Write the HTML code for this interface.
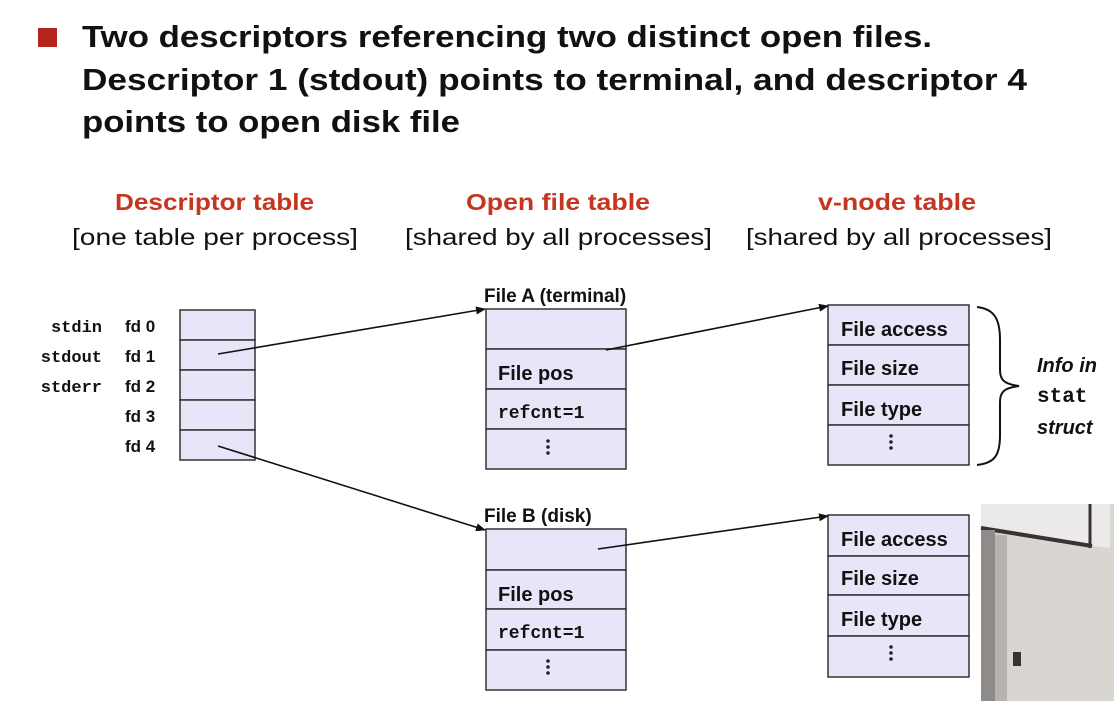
<!DOCTYPE html>
<html><head><meta charset="utf-8"><style>
html,body{margin:0;padding:0;background:#fff;width:1114px;height:701px;overflow:hidden}
svg{display:block}
.t{font-family:"Liberation Sans",sans-serif;font-weight:bold;fill:#111}
.m{font-family:"Liberation Mono",monospace;fill:#111}
.r{font-family:"Liberation Sans",sans-serif;font-weight:bold;fill:#c5351f}
.s{font-family:"Liberation Sans",sans-serif;fill:#111}
.c{fill:#e6e6f8;stroke:#333;stroke-width:1.5}
</style></head><body>
<svg width="1114" height="701" viewBox="0 0 1114 701">
<defs><marker id="a" markerWidth="10" markerHeight="8" refX="9" refY="4" orient="auto" markerUnits="userSpaceOnUse"><path d="M0,0 L10,4 L0,8 z" fill="#111"/></marker></defs>
<rect x="38" y="28" width="19" height="19" fill="#b3261e"/>
<text class="t" x="82" y="47" font-size="31" textLength="850" lengthAdjust="spacingAndGlyphs">Two descriptors referencing two distinct open files.</text>
<text class="t" x="82" y="90" font-size="31" textLength="945" lengthAdjust="spacingAndGlyphs">Descriptor 1 (stdout) points to terminal, and descriptor 4</text>
<text class="t" x="82" y="132" font-size="31" textLength="378" lengthAdjust="spacingAndGlyphs">points to open disk file</text>

<text class="r" x="115" y="210" font-size="23" textLength="199" lengthAdjust="spacingAndGlyphs">Descriptor table</text>
<text class="s" x="72" y="245" font-size="23" textLength="286" lengthAdjust="spacingAndGlyphs">[one table per process]</text>
<text class="r" x="466" y="210" font-size="23" textLength="184" lengthAdjust="spacingAndGlyphs">Open file table</text>
<text class="s" x="405" y="245" font-size="23" textLength="307" lengthAdjust="spacingAndGlyphs">[shared by all processes]</text>
<text class="r" x="818" y="210" font-size="23" textLength="158" lengthAdjust="spacingAndGlyphs">v-node table</text>
<text class="s" x="746" y="245" font-size="23" textLength="306" lengthAdjust="spacingAndGlyphs">[shared by all processes]</text>

<g class="c"><rect x="180" y="310" width="75" height="30"/><rect x="180" y="340" width="75" height="30"/><rect x="180" y="370" width="75" height="30"/><rect x="180" y="400" width="75" height="30"/><rect x="180" y="430" width="75" height="30"/></g>
<g font-size="17">
<text class="m" x="102" y="332" text-anchor="end" font-weight="bold">stdin</text>
<text class="m" x="102" y="362" text-anchor="end" font-weight="bold">stdout</text>
<text class="m" x="102" y="392" text-anchor="end" font-weight="bold">stderr</text>
<text class="t" x="125" y="332">fd 0</text><text class="t" x="125" y="362">fd 1</text><text class="t" x="125" y="392">fd 2</text><text class="t" x="125" y="422">fd 3</text><text class="t" x="125" y="452">fd 4</text>
</g>

<g class="c"><rect x="486" y="309" width="140" height="40"/><rect x="486" y="349" width="140" height="40"/><rect x="486" y="389" width="140" height="40"/><rect x="486" y="429" width="140" height="40"/>
<rect x="486" y="529" width="140" height="41"/><rect x="486" y="570" width="140" height="39"/><rect x="486" y="609" width="140" height="41"/><rect x="486" y="650" width="140" height="40"/></g>
<text class="t" x="484" y="302" font-size="19">File A (terminal)</text>
<text class="t" x="484" y="522" font-size="19">File B (disk)</text>
<text class="t" x="498" y="380" font-size="20">File pos</text>
<text class="m" x="498" y="418" font-size="18" font-weight="bold">refcnt=1</text>
<text class="t" x="498" y="601" font-size="20">File pos</text>
<text class="m" x="498" y="638" font-size="18" font-weight="bold">refcnt=1</text>
<g fill="#222"><circle cx="548" cy="441" r="1.8"/><circle cx="548" cy="447" r="1.8"/><circle cx="548" cy="453" r="1.8"/>
<circle cx="548" cy="661" r="1.8"/><circle cx="548" cy="667" r="1.8"/><circle cx="548" cy="673" r="1.8"/></g>

<g class="c"><rect x="828" y="305" width="141" height="40"/><rect x="828" y="345" width="141" height="40"/><rect x="828" y="385" width="141" height="40"/><rect x="828" y="425" width="141" height="40"/>
<rect x="828" y="515" width="141" height="41"/><rect x="828" y="556" width="141" height="39"/><rect x="828" y="595" width="141" height="41"/><rect x="828" y="636" width="141" height="41"/></g>
<g font-size="20">
<text class="t" x="841" y="336">File access</text><text class="t" x="841" y="375">File size</text><text class="t" x="841" y="416">File type</text>
<text class="t" x="841" y="546">File access</text><text class="t" x="841" y="585">File size</text><text class="t" x="841" y="626">File type</text>
</g>
<g fill="#222"><circle cx="891" cy="436" r="1.8"/><circle cx="891" cy="442" r="1.8"/><circle cx="891" cy="448" r="1.8"/>
<circle cx="891" cy="647" r="1.8"/><circle cx="891" cy="653" r="1.8"/><circle cx="891" cy="659" r="1.8"/></g>

<path d="M977,307 C995,309 1000,320 1000,340 L1000,370 C1000,380 1004,384 1019,386 C1004,388 1000,392 1000,402 L1000,435 C1000,455 995,463 977,465" fill="none" stroke="#111" stroke-width="2"/>
<text class="s" x="1037" y="372" font-size="20" font-style="italic" font-weight="bold">Info in</text>
<text class="m" x="1037" y="402" font-size="21" font-weight="bold">stat</text>
<text class="s" x="1037" y="434" font-size="20" font-style="italic" font-weight="bold">struct</text>

<g stroke="#111" stroke-width="1.6" fill="none" marker-end="url(#a)">
<line x1="218" y1="354" x2="485" y2="309"/>
<line x1="218" y1="446" x2="485" y2="530"/>
<line x1="606" y1="350" x2="828" y2="306"/>
<line x1="598" y1="549" x2="828" y2="516"/>
</g>

<rect x="981" y="504" width="133" height="197" fill="#cfcdc9"/>
<rect x="1000" y="504" width="114" height="197" fill="#d9d6d2"/>
<polygon points="981,504 1110,504 1110,548 981,530" fill="#eceae8"/>
<line x1="981" y1="528" x2="1092" y2="546" stroke="#3a3234" stroke-width="4"/>
<line x1="1090" y1="504" x2="1090" y2="548" stroke="#3a3234" stroke-width="3"/>
<rect x="981" y="530" width="14" height="171" fill="#8e8b88"/>
<rect x="995" y="535" width="12" height="166" fill="#b6b3b0"/>
<rect x="1013" y="652" width="8" height="14" fill="#333"/>
</svg>
</body></html>
